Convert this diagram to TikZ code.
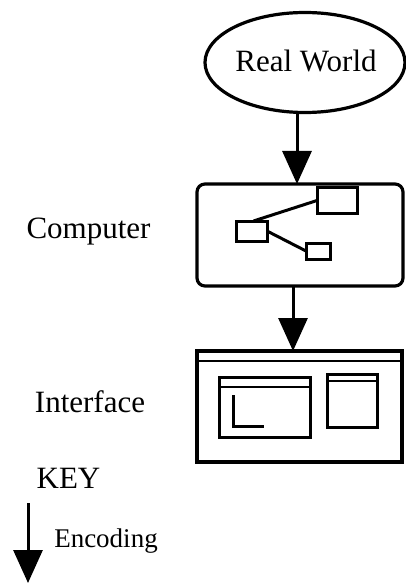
\documentclass[tikz,border=0pt]{standalone}
\usepackage{fontspec}
\setmainfont{Liberation Serif}
\usetikzlibrary{shapes.geometric,arrows.meta,calc}
\begin{document}
\begin{tikzpicture}[x=1pt,y=-1pt,
  every node/.style={inner sep=0pt,outer sep=0pt},
  lbl/.style={anchor=base,font=\fontsize{31}{36}\selectfont},
  small/.style={anchor=base,font=\fontsize{27}{32}\selectfont},
  outline/.style={draw,line width=3.2pt},
  inner/.style={draw,line width=3pt},
  arr/.style={line width=3pt,-{Triangle[length=33pt,width=29pt]}}]
\useasboundingbox (0,0) rectangle (405,585);
% Real world
\node[outline,ellipse,minimum width=200pt,minimum height=100pt] (real) at (305,62.5) {};
\node[lbl] (realtxt) at (306,72) {Real World};
% Computer
\node[outline,rectangle,rounded corners=8pt,minimum width=206pt,minimum height=102pt] (comp) at (300,235) {};
\node[lbl] (comptxt) at (88.5,238) {Computer};
\node[inner,minimum width=31pt,minimum height=20pt] (lb) at (251.5,231) {};
\node[inner,minimum width=40pt,minimum height=25pt] (ub) at (337,200.5) {};
\node[inner,minimum width=24pt,minimum height=16pt] (lob) at (318,251) {};
\draw[line width=3pt] ($(lb.north)+(2,0)$) -- (ub.west);
\draw[line width=3pt] (lb.east) -- (lob.west);
% Interface
\node[outline,rectangle,minimum width=205pt,minimum height=111pt] (iface) at (299.5,406.5) {};
\node[lbl] (ifacetxt) at (90,412) {Interface};
\draw[line width=2.5pt] ($(iface.north west)+(0,10)$) -- ($(iface.north east)+(0,10)$);
\node[inner,minimum width=91pt,minimum height=60pt] (lw) at (264.5,407) {};
\draw[line width=2.5pt] ($(lw.north west)+(0,10)$) -- ($(lw.north east)+(0,10)$);
\draw[line width=3pt] ($(lw.north west)+(14,18)$) |- ($(lw.north west)+(45,49)$);
\node[inner,minimum width=50pt,minimum height=53pt] (rw) at (352,400.5) {};
\draw[line width=2.5pt] ($(rw.north west)+(0,7)$) -- ($(rw.north east)+(0,7)$);
% arrows
\draw[arr] (real.south -| 297,0) -- (comp.north -| 297,0);
\draw[arr] (comp.south -| 293,0) -- (iface.north -| 293,0);
% key
\node[lbl] (key) at (68.5,488) {KEY};
\coordinate (ks) at (28,503);
\coordinate (ke) at (28,583);
\draw[arr] (ks) -- (ke);
\node[small] (enc) at (106,547) {Encoding};
\end{tikzpicture}
\end{document}
